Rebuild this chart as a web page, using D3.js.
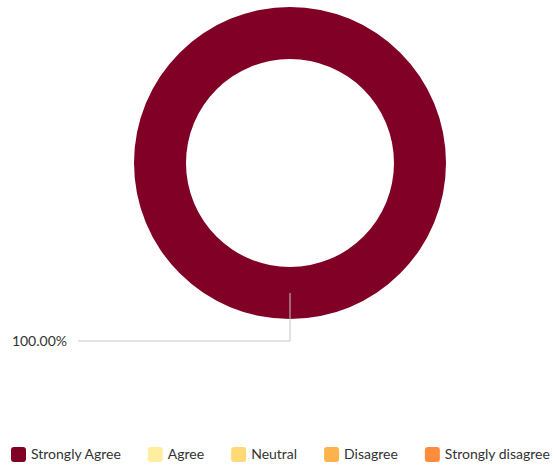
<!DOCTYPE html>
<html>
<head>
<meta charset="utf-8">
<script src="https://cdn.jsdelivr.net/npm/d3@7"></script>
<style>
  body { margin: 0; background: #fff; }
  text { font-family: Lato, "Open Sans", sans-serif; }
</style>
</head>
<body>
<script>
// Chart size
var w = 554;
var h = 465;

// Data
var categories = ["Strongly Agree", "Agree", "Neutral", "Disagree", "Strongly disagree"];
var values = [100, 0, 0, 0, 0];
var colors = ["#800026", "#ffeda0", "#fed976", "#feb24c", "#fd8d3c"];

var cx = 290, cy = 163;
var outerR = 156, innerR = 104;

var svg = d3.select("body")
    .append("svg")
    .attr("width", w)
    .attr("height", h);

var total = d3.sum(values);

// Pie layout, no sorting so the order follows the categories
var pie = d3.pie()
    .sort(null)
    .value(function(d) { return d.value; });

var data = categories.map(function(c, i) {
    return { name: c, value: values[i], color: colors[i] };
});

var arcs = pie(data);

var arc = d3.arc()
    .innerRadius(innerR)
    .outerRadius(outerR);

var g = svg.append("g")
    .attr("transform", "translate(" + cx + "," + cy + ")");

g.selectAll("path")
    .data(arcs.filter(function(d) { return d.value > 0; }))
    .enter()
    .append("path")
    .attr("d", arc)
    .attr("fill", function(d) { return d.data.color; });

// Leader lines and labels
var midArc = d3.arc().innerRadius(130).outerRadius(130);

arcs.filter(function(d) { return d.value > 0; }).forEach(function(d) {
    var a = (d.startAngle + d.endAngle) / 2;
    var p = midArc.centroid(d);
    var py = -Math.cos(a) * (outerR + 22);
    var left = Math.sin(a) <= 0 || Math.abs(Math.sin(a)) < 1e-6;
    var ex = left ? -212 : 212;
    g.append("polyline")
        .attr("points", [[p[0], p[1]], [p[0], py], [ex, py]].map(function(q) { return q.join(","); }).join(" "))
        .attr("fill", "none")
        .attr("stroke", "#c8c8c8")
        .attr("stroke-width", 1);
    g.append("text")
        .attr("x", left ? ex - 11 : ex + 11)
        .attr("y", py)
        .attr("dy", "0.35em")
        .attr("text-anchor", left ? "end" : "start")
        .attr("font-size", "14px")
        .attr("fill", "#333")
        .text((d.value / total * 100).toFixed(2) + "%");
});

// Legend
var legend = svg.append("g");
var x = 0;
var sw = 15, gap = 5, itemGap = 27;
data.forEach(function(d, i) {
    var item = legend.append("g").attr("transform", "translate(" + x + ",0)");
    item.append("rect")
        .attr("x", 0)
        .attr("y", 0)
        .attr("width", sw)
        .attr("height", sw)
        .attr("rx", 3)
        .attr("fill", d.color);
    var t = item.append("text")
        .attr("x", sw + gap)
        .attr("y", sw / 2)
        .attr("dy", "0.35em")
        .attr("font-size", "14px")
        .attr("fill", "#333")
        .text(d.name);
    x += sw + gap + t.node().getComputedTextLength() + itemGap;
});
legend.attr("transform", "translate(11,447)");
</script>
</body>
</html>
